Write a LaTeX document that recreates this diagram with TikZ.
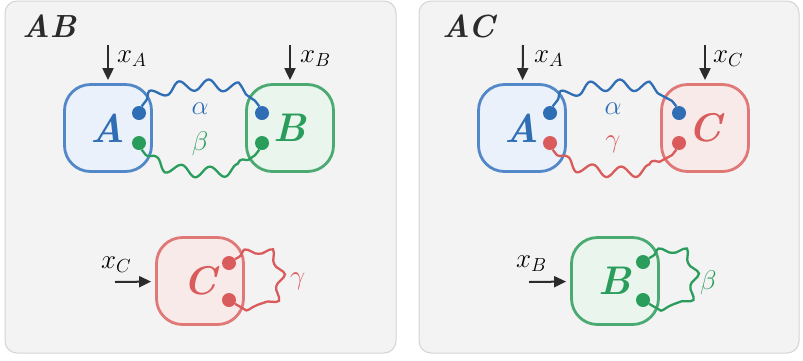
\RequirePackage{fix-cm}
\documentclass[tikz,border=0pt]{standalone}
\usepackage{tikz}
\usetikzlibrary{arrows.meta,decorations.pathmorphing}
\usepackage{xcolor}

\definecolor{cblue}{HTML}{2F6DB5}
\definecolor{blueline}{HTML}{5288C7}
\definecolor{bluefill}{HTML}{EAF1FA}
\definecolor{cgreen}{HTML}{2A9D5C}
\definecolor{greenline}{HTML}{4AAA72}
\definecolor{greenfill}{HTML}{EAF5EE}
\definecolor{cred}{HTML}{D95B5B}
\definecolor{redline}{HTML}{E07878}
\definecolor{redfill}{HTML}{F9EAEA}
\definecolor{panelbg}{HTML}{F3F3F3}
\definecolor{panelline}{HTML}{D4D4D4}
\definecolor{ink}{HTML}{2B2B2B}

\begin{document}
\begin{tikzpicture}[
      x=1pt, y=-1pt,
      panel/.style={draw=panelline, fill=panelbg, line width=1pt, rounded corners=12pt},
      titel/.style={anchor=base west, inner sep=0pt, text=ink,
                    font=\fontsize{32}{32}\selectfont\bfseries\itshape},
      sysbox/.style={rounded corners=26pt, minimum size=87pt, line width=2.8pt,
                     font=\fontsize{40}{40}\selectfont\bfseries\itshape},
      port/.style={circle, fill=#1, inner sep=0pt, minimum size=14pt},
      wave/.style={draw=#1, line width=2.3pt, decorate,
                   decoration={snake, amplitude=5.5pt, segment length=29pt,
                               pre length=7pt, post length=7pt}},
      loopwave/.style={draw=#1, line width=2.3pt, decorate,
                   decoration={snake, amplitude=4pt, segment length=25pt,
                               pre length=5pt, post length=5pt}},
      inarrow/.style={draw=ink, line width=2pt, -{Triangle[length=12pt,width=11pt]}},
      lab/.style={inner sep=0pt, font=\fontsize{27}{27}\selectfont}
    ]
    \useasboundingbox (0,0) rectangle (803,360);

    % panels
    \draw[panel] (5,1) rectangle (396,353);
    \draw[panel] (419,1) rectangle (799,353);
    \node[titel] (tAB) at (22,37)  {AB};
    \node[titel] (tAC) at (442,37) {AC};

    % --- panel AB ---
    \node[sysbox, draw=blueline, fill=bluefill, text=cblue]    (lA) at (108,128) {A};
    \node[sysbox, draw=greenline, fill=greenfill, text=cgreen] (lB) at (290,128) {B};
    \node[port=cblue]  (lA1) at (139,113) {};
    \node[port=cgreen] (lA2) at (139,143) {};
    \node[port=cblue]  (lB1) at (262,113) {};
    \node[port=cgreen] (lB2) at (262,143) {};
    \draw[wave=cblue]  (lA1) .. controls +(12,-30) and +(-12,-30) .. (lB1);
    \draw[wave=cgreen] (lA2) .. controls +(12,30) and +(-12,30) .. (lB2);
    \node[lab, text=cblue]  (lal) at (200,109) {$\alpha$};
    \node[lab, text=cgreen] (lbe) at (200,144) {$\beta$};

    \coordinate (inlA) at (108,45);
    \coordinate (inlB) at (290,45);
    \draw[inarrow, shorten >=3pt] (inlA) -- (lA);
    \draw[inarrow, shorten >=3pt] (inlB) -- (lB);
    \node[lab, anchor=base west] (xlA) at (117,62) {$x_A$};
    \node[lab, anchor=base west] (xlB) at (300,62) {$x_B$};

    \node[sysbox, draw=redline, fill=redfill, text=cred] (lC) at (200,281) {C};
    \node[port=cred] (lC1) at (229,263) {};
    \node[port=cred] (lC2) at (229,300) {};
    \draw[loopwave=cred] (lC1) .. controls +(60,-38) and +(60,38) .. (lC2);
    \node[lab, text=cred, anchor=west] (lga) at (290,281) {$\gamma$};
    \coordinate (inlC) at (115,282);
    \draw[inarrow, shorten >=4pt] (inlC) -- (lC);
    \node[lab, anchor=base west] (xlC) at (101,268) {$x_C$};

    % --- panel AC ---
    \node[sysbox, draw=blueline, fill=bluefill, text=cblue] (rA) at (522,128) {A};
    \node[sysbox, draw=redline, fill=redfill, text=cred]    (rC) at (705,128) {C};
    \node[port=cblue] (rA1) at (550,113) {};
    \node[port=cred]  (rA2) at (550,143) {};
    \node[port=cblue] (rC1) at (679,113) {};
    \node[port=cred]  (rC2) at (679,143) {};
    \draw[wave=cblue] (rA1) .. controls +(12,-30) and +(-12,-30) .. (rC1);
    \draw[wave=cred]  (rA2) .. controls +(12,30) and +(-12,30) .. (rC2);
    \node[lab, text=cblue] (ral) at (613,109) {$\alpha$};
    \node[lab, text=cred]  (rga) at (613,144) {$\gamma$};

    \coordinate (inrA) at (523,45);
    \coordinate (inrC) at (705,45);
    \draw[inarrow, shorten >=3pt] (inrA) -- (rA);
    \draw[inarrow, shorten >=3pt] (inrC) -- (rC);
    \node[lab, anchor=base west] (xrA) at (534,62) {$x_A$};
    \node[lab, anchor=base west] (xrC) at (713,62) {$x_C$};

    \node[sysbox, draw=greenline, fill=greenfill, text=cgreen] (rB) at (615,281) {B};
    \node[port=cgreen] (rB1) at (643,262) {};
    \node[port=cgreen] (rB2) at (643,300) {};
    \draw[loopwave=cgreen] (rB1) .. controls +(60,-38) and +(60,38) .. (rB2);
    \node[lab, text=cgreen, anchor=west] (rbe) at (700,283) {$\beta$};
    \coordinate (inrB) at (529,282);
    \draw[inarrow, shorten >=4pt] (inrB) -- (rB);
    \node[lab, anchor=base west] (xrB) at (516,267) {$x_B$};
  \end{tikzpicture}
\end{document}
